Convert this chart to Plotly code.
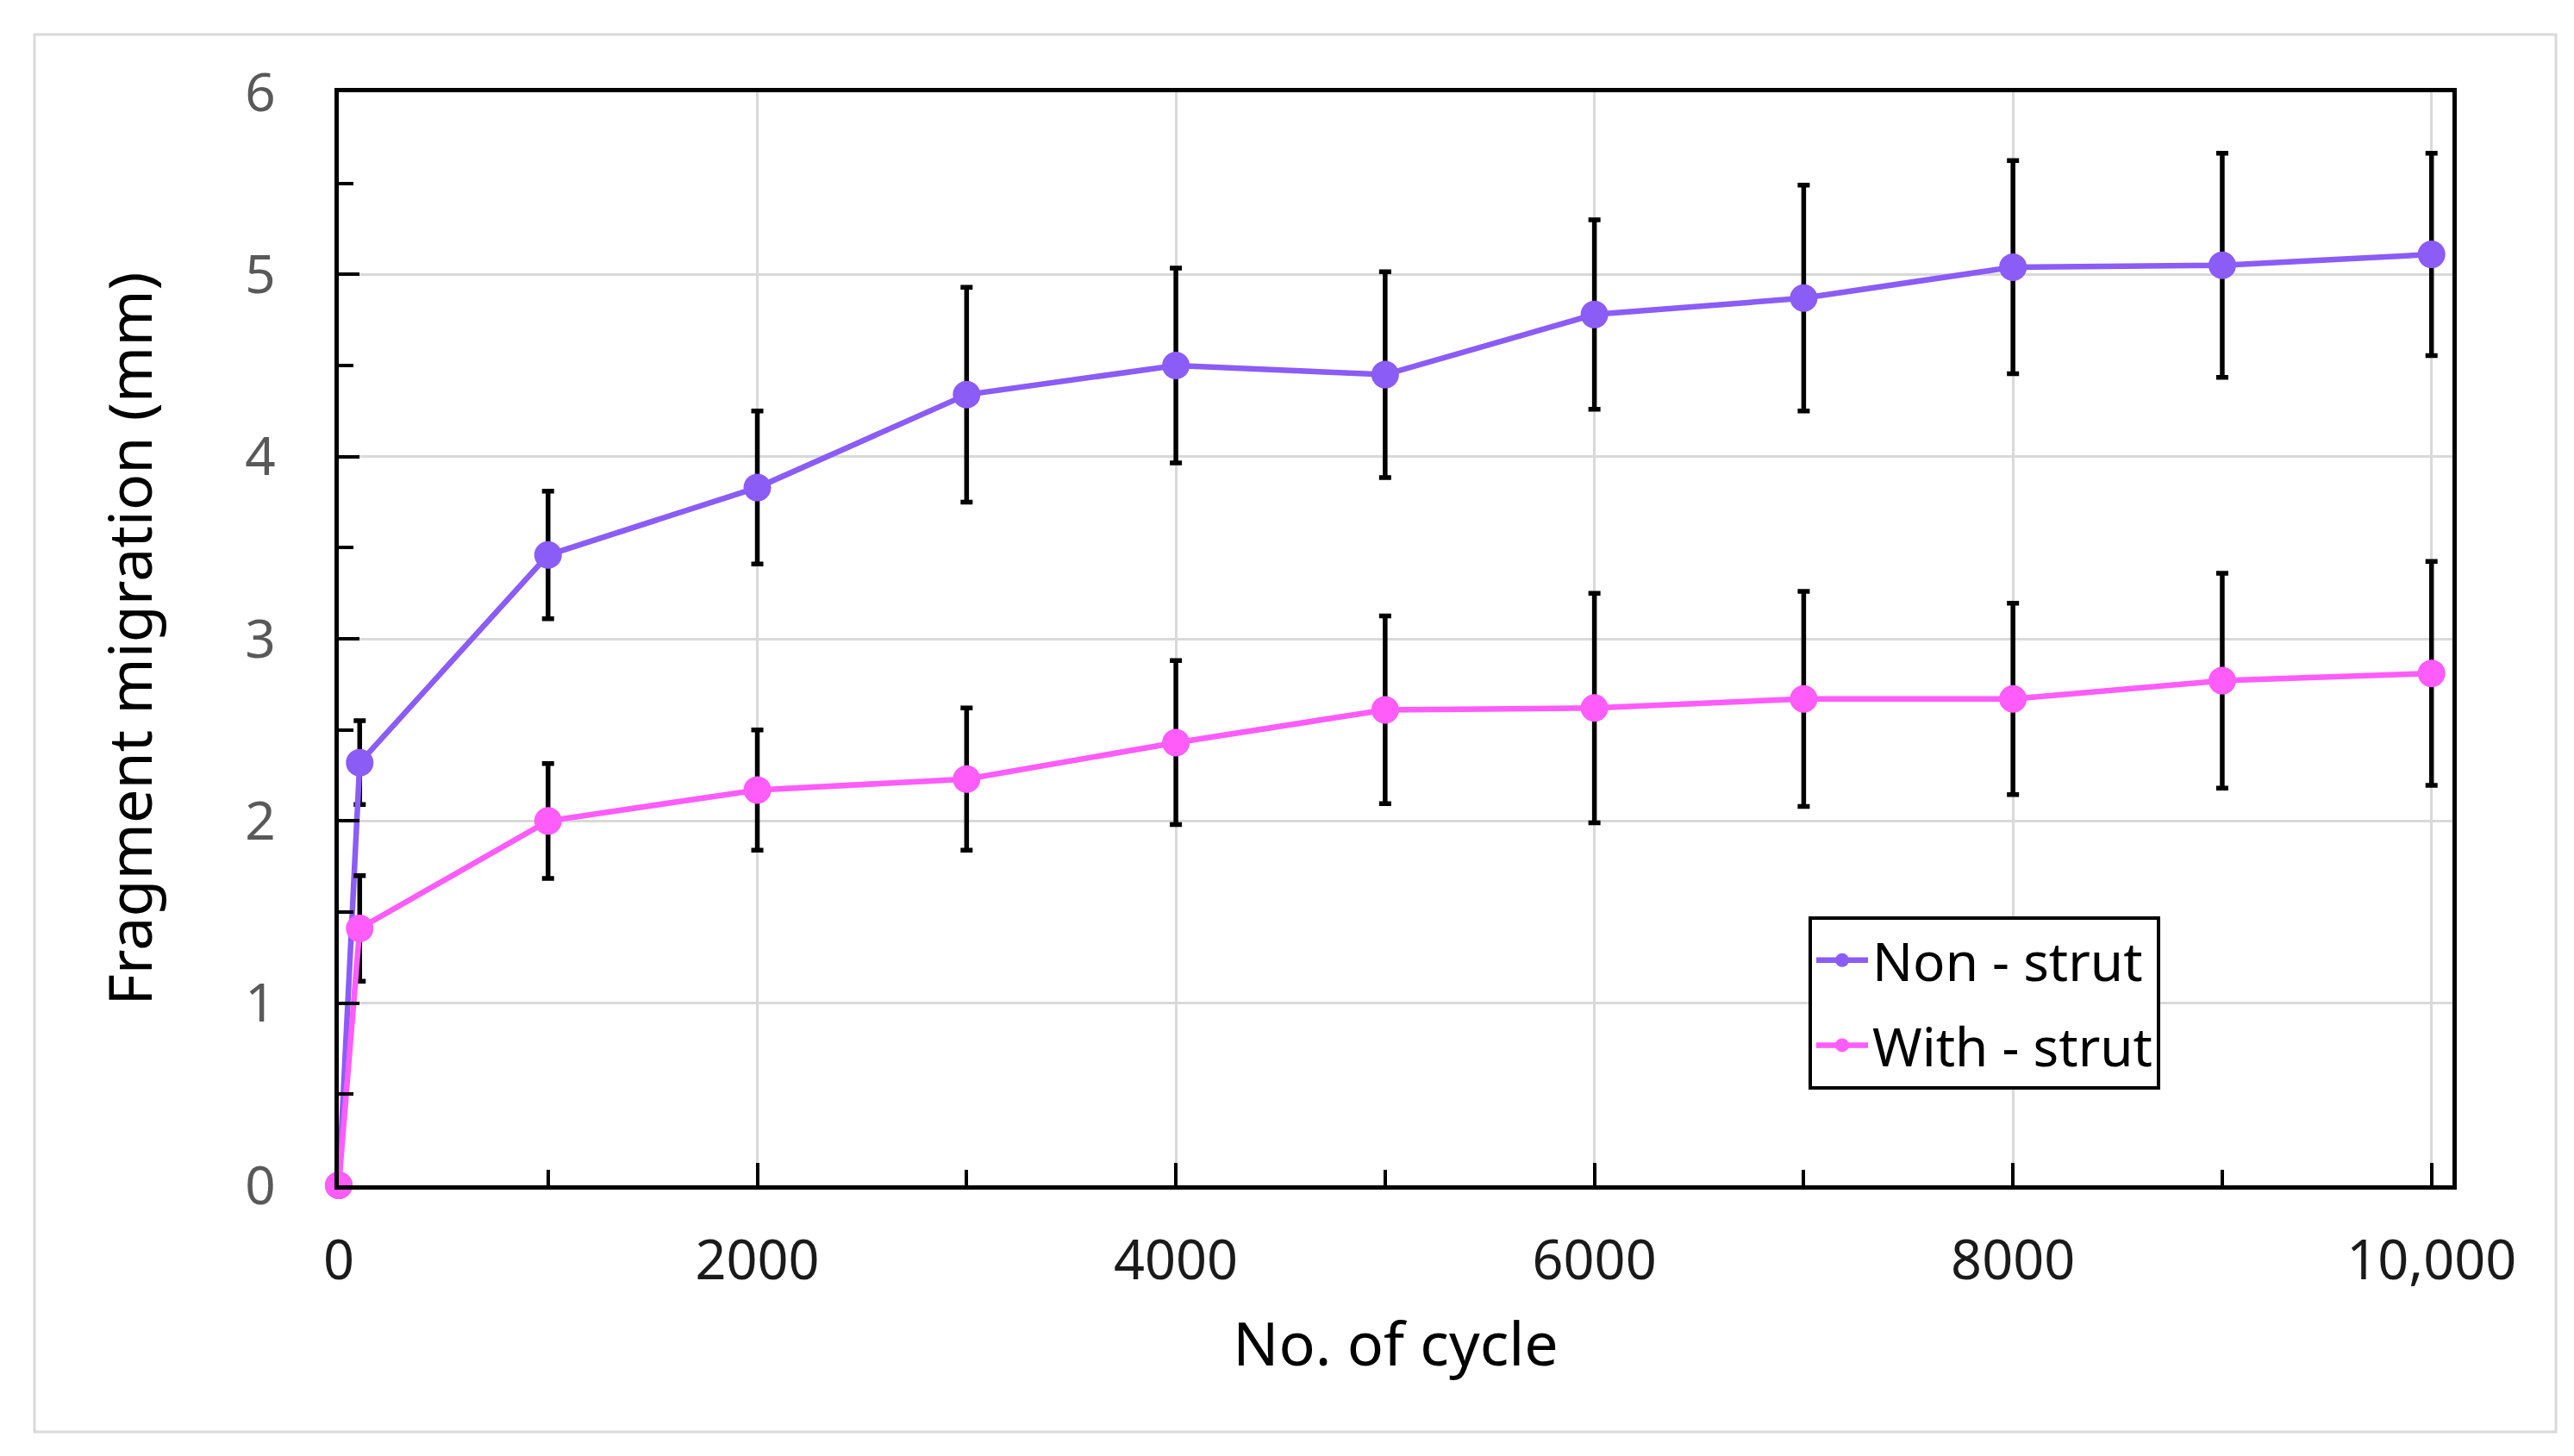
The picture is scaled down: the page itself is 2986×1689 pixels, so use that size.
import plotly.graph_objects as go

# ---- data ----
cycles = [0, 100, 1000, 2000, 3000, 4000, 5000, 6000, 7000, 8000, 9000, 10000]
non_strut = [0, 2.32, 3.46, 3.83, 4.34, 4.50, 4.45, 4.78, 4.87, 5.04, 5.05, 5.11]
non_strut_err = [0, 0.23, 0.35, 0.42, 0.59, 0.535, 0.565, 0.52, 0.62, 0.585, 0.615, 0.555]
with_strut = [0, 1.41, 2.00, 2.17, 2.23, 2.43, 2.61, 2.62, 2.67, 2.67, 2.77, 2.81]
with_strut_err = [0, 0.29, 0.315, 0.33, 0.39, 0.45, 0.515, 0.63, 0.59, 0.525, 0.59, 0.615]

x_tickvals = [0, 2000, 4000, 6000, 8000, 10000]
x_ticktext = ["0", "2000", "4000", "6000", "8000", "10,000"]
y_tickvals = [0, 1, 2, 3, 4, 5, 6]

names = ["Non - strut", "With - strut"]
colors = ["#8B5CF6", "#FF5CFA"]

FONT = "Noto Sans"
W, H = 2986, 1689
ML, MR, MT, MB = 385, 149, 99, 322

fig = go.Figure()
for i, (name, ys, err, col) in enumerate([
    (names[0], non_strut, non_strut_err, colors[0]),
    (names[1], with_strut, with_strut_err, colors[1]),
]):
    fig.add_trace(go.Scatter(
        x=cycles, y=ys, name=name, mode="lines+markers",
        legendgroup=f"g{i}",
        line=dict(color=col, width=6.5),
        marker=dict(color=col, size=32),
        error_y=dict(type="data", array=err, visible=True,
                     color="black", thickness=5.5, width=7),
        cliponaxis=False,
    ))

pw = W - ML - MR
ph = H - MT - MB

fig.update_layout(
    width=W, height=H,
    margin=dict(l=ML, r=MR, t=MT, b=MB),
    paper_bgcolor="white", plot_bgcolor="white",
    font=dict(family=FONT, color="black"),
    showlegend=True,
    legend=dict(
        x=(2090 - ML) / pw, y=(H - MB - 1055) / ph,
        xanchor="left", yanchor="top",
        bgcolor="white", bordercolor="black", borderwidth=4,
        font=dict(size=62, family=FONT, color="black"),
        itemsizing="trace",
        itemwidth=60,
        tracegroupgap=15,
    ),
    xaxis=dict(
        range=[0, 10100],
        tickmode="array", tickvals=x_tickvals, ticktext=x_ticktext,
        ticks="inside", ticklen=26, tickwidth=4, tickcolor="black",
        minor=dict(dtick=1000, tick0=0, ticks="inside", ticklen=18,
                   tickwidth=4, tickcolor="black", showgrid=False),
        showgrid=True, gridcolor="#D9D9D9", gridwidth=3,
        showline=True, linecolor="black", linewidth=5, mirror=True,
        zeroline=False,
        tickfont=dict(size=63, family=FONT, color="#1a1a1a"),
        ticklabelstandoff=28,
        title=dict(text="No. of cycle", font=dict(size=70, family=FONT, color="black"),
                   standoff=36),
    ),
    yaxis=dict(
        range=[0, 6],
        tickmode="array", tickvals=y_tickvals,
        ticks="inside", ticklen=24, tickwidth=4, tickcolor="black",
        minor=dict(dtick=0.5, tick0=0, ticks="inside", ticklen=17,
                   tickwidth=4, tickcolor="black", showgrid=False),
        showgrid=True, gridcolor="#D9D9D9", gridwidth=3,
        showline=True, linecolor="black", linewidth=5, mirror=True,
        zeroline=False,
        tickfont=dict(size=62, family=FONT, color="#595959"),
        ticklabelstandoff=56,
        title=dict(text="Fragment migration (mm)", font=dict(size=70, family=FONT, color="black"),
                   standoff=86),
    ),
)

# outer light-gray frame around the whole chart image
fig.add_shape(
    type="rect", xref="paper", yref="paper",
    x0=(32 - ML) / pw, x1=(2957 - ML) / pw,
    y0=(H - 1653 - MB) / ph, y1=(H - 32 - MB) / ph,
    line=dict(color="#D9D9D9", width=3), fillcolor="rgba(0,0,0,0)",
    layer="below",
)

fig.write_html("out.html")
